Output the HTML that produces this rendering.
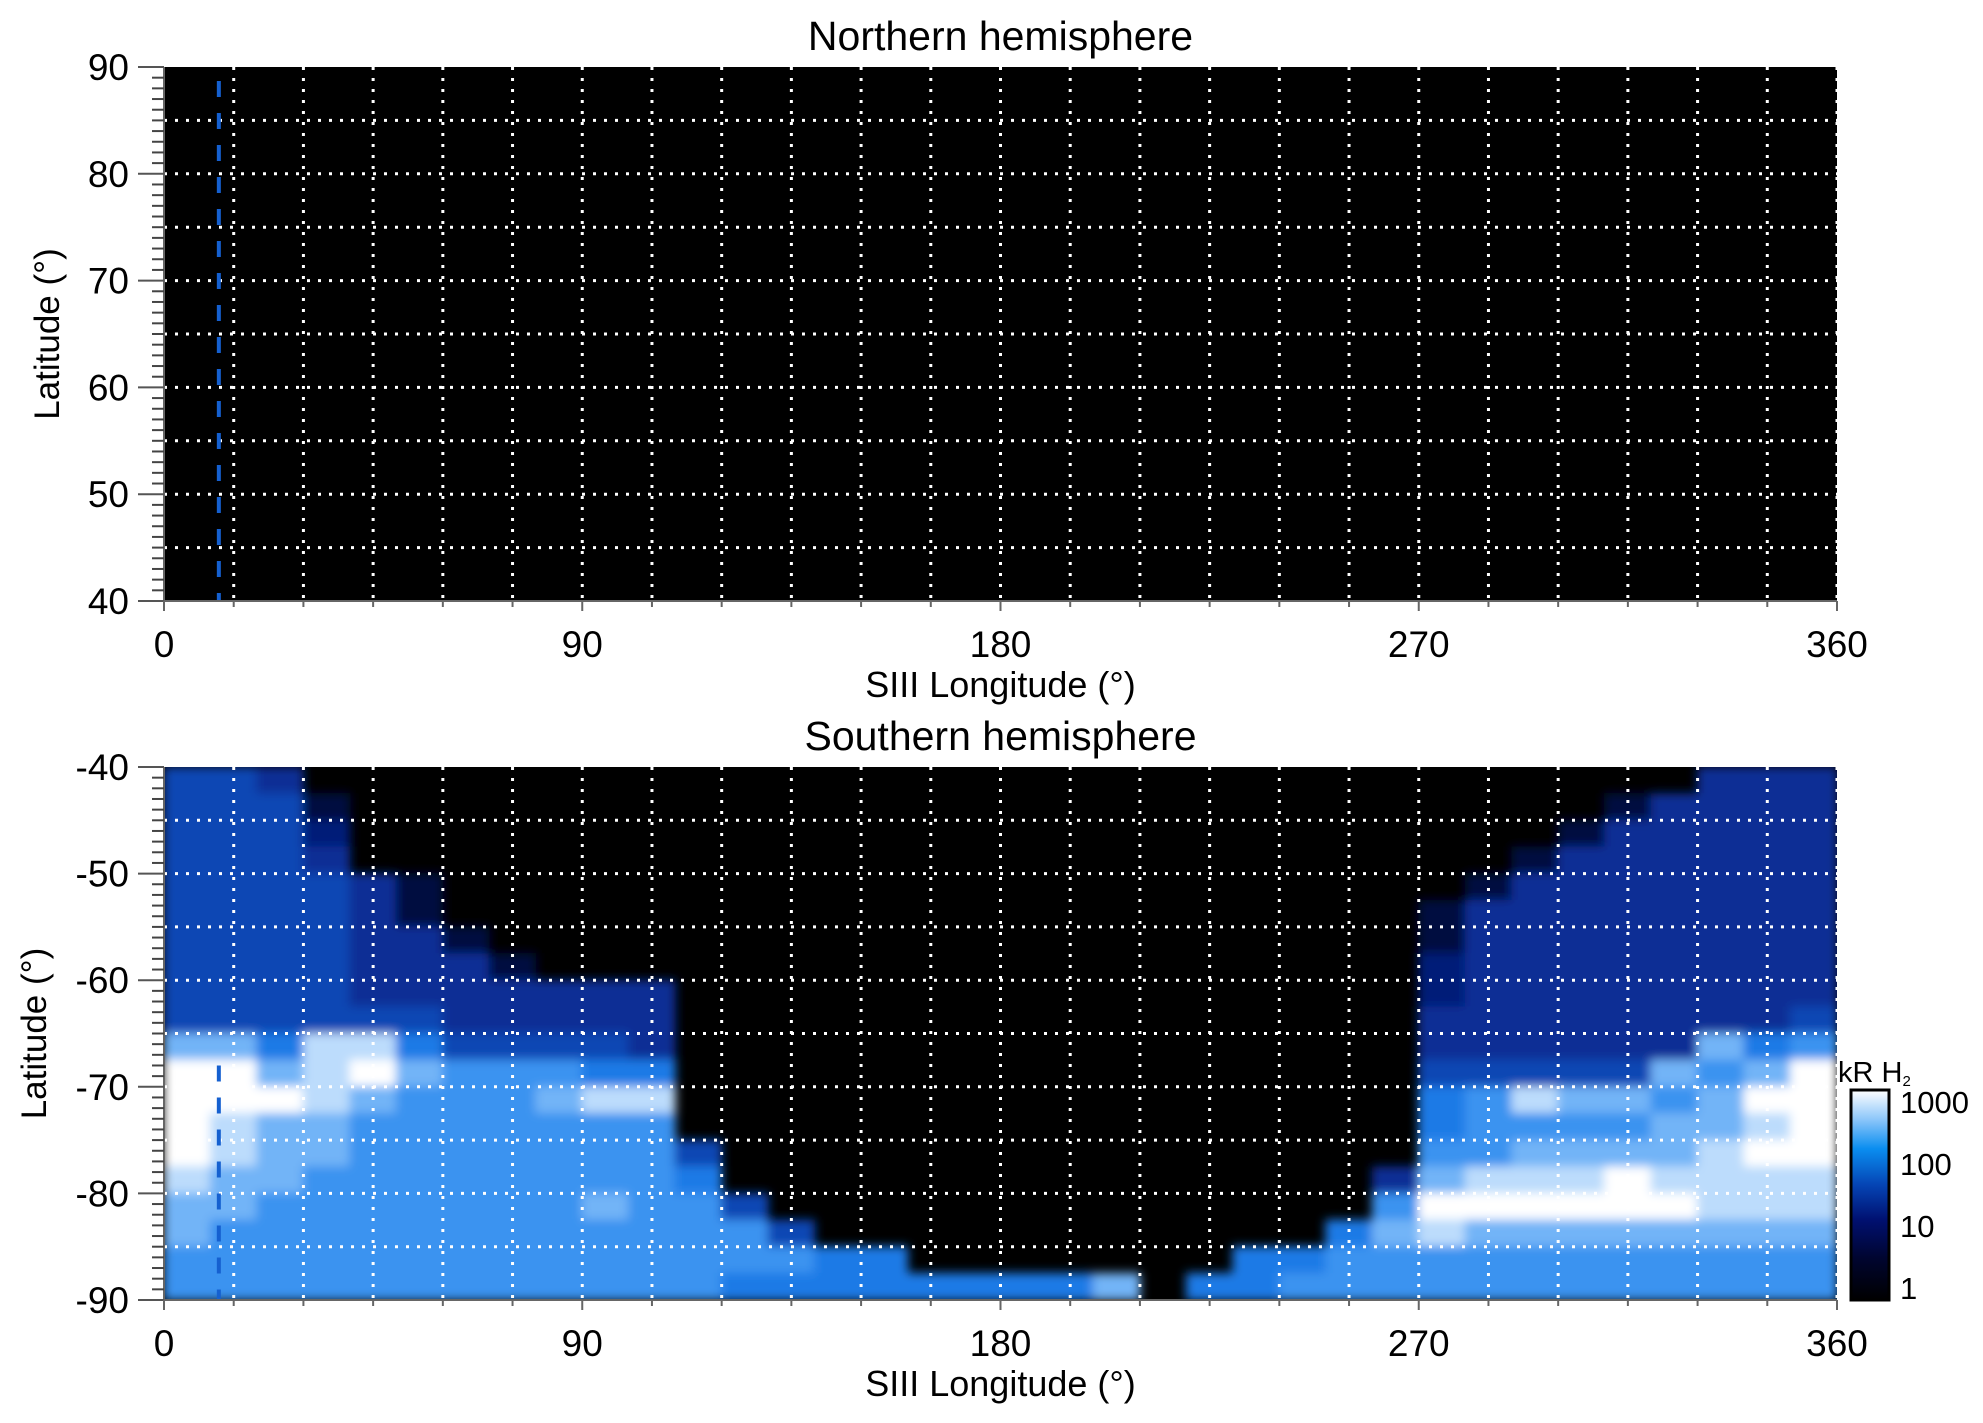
<!DOCTYPE html>
<html><head><meta charset="utf-8"><title>Auroral emission map</title>
<style>
html,body{margin:0;padding:0;background:#fff;}
svg{display:block;font-family:"Liberation Sans",sans-serif;}
</style></head>
<body>
<svg id="fig" width="1983" height="1423" viewBox="0 0 1983 1423" xmlns="http://www.w3.org/2000/svg">
<defs>
<linearGradient id="cbar" x1="0" y1="1" x2="0" y2="0">
<stop offset="0" stop-color="#000000"/>
<stop offset="0.2" stop-color="#000530"/>
<stop offset="0.38" stop-color="#001070"/>
<stop offset="0.55" stop-color="#0545b5"/>
<stop offset="0.72" stop-color="#0a8ef0"/>
<stop offset="0.86" stop-color="#8cc6fa"/>
<stop offset="1" stop-color="#ffffff"/>
</linearGradient>
<clipPath id="clipS"><rect x="164" y="767" width="1673" height="533"/></clipPath>
<filter id="soft" x="0" y="0" width="1" height="1"><feGaussianBlur stdDeviation="5"/></filter>
</defs>
<g id="north"></g>
<g id="south"></g>
<g id="colorbar">
<rect x="1851" y="1090" width="38" height="210" fill="url(#cbar)" stroke="#000" stroke-width="3"/>
<text x="1838" y="1082" font-size="29">kR H<tspan font-size="15" dy="4">2</tspan></text>
</g>
</svg>
<script>
// ---- data ----
const lonTicks = [0, 90, 180, 270, 360];
const northLatTicks = [40, 50, 60, 70, 80, 90];
const southLatTicks = [-90, -80, -70, -60, -50, -40];
const cbarTicks = ["1000", "100", "10", "1"];
const cbarTickValues = [1000, 100, 10, 1];
const cmLonStep = 10;
const cmLatStep = 2.5;
// emission level (0 black .. 9 white) per 10° lon cell, rows from -40 down to -90 in 2.5° steps
const southRows = [
"443000000000000000000000000000000333",
"444100000000000000000000000000013333",
"444200000000000000000000000000133333",
"444300000000000000000000000001333333",
"444431000000000000000000000013333333",
"444431000000000000000000000133333333",
"444433100000000000000000000133333333",
"444433310000000000000000000233333333",
"444433333330000000000000000233333333",
"444444333330000000000000000333333334",
"775885444430000000000000000333333756",
"997897666550000000000000000444447679",
"999876667880000000000000000568776799",
"987766666660000000000000000566667789",
"987766666664000000000000000667777899",
"877666666665000000000000003788898888",
"776666666766400000000000006999999888",
"766666666666640000000000057877777777",
"666666666666665500000005566666666666",
"666666666666555555557055666666666666"
];
const levelColors = ["#000000","#020a40","#031d78","#072f95","#0c46b4","#1f7ae6","#3a93f0","#72b4f7","#bcdcfc","#ffffff"];
const markerLon = 11.8;

// ---- layout ----
const X0 = 164, X1 = 1837;
const NT = 67, NB = 601, ST = 767, SB = 1300;
const svg = document.getElementById('fig');
const NS = 'http://www.w3.org/2000/svg';
function xs(lon){ return X0 + (lon/360)*(X1-X0); }
function yN(lat){ return NT + (90-lat)/50*(NB-NT); }
function yS(lat){ return ST + (-40-lat)/50*(SB-ST); }
function mk(tag, attrs, parent){ const e=document.createElementNS(NS,tag); for(const k in attrs) e.setAttribute(k,attrs[k]); parent.appendChild(e); return e; }

function panel(g, top, bot, yf, latTicks, latMin, title, isSouth){
  const bg = mk('rect',{x:X0,y:top,width:X1-X0,height:bot-top,fill:'#000'},g);
  
  
  if(isSouth){
    const hm = mk('g',{'clip-path':'url(#clipS)'},g);
    
    
    const inner = mk('g',{filter:'url(#soft)'},hm);
    southRows.forEach((row,r)=>{
      const latTop = -40 - r*cmLatStep, latBot = latTop - cmLatStep;
      for(let c=0;c<row.length;c++){
        const lv = +row[c];
        if(lv===0) continue;
        const x = xs(c*cmLonStep), w = xs((c+1)*cmLonStep)-x;
        const y = yf(latTop), h = yf(latBot)-y;
        const cell = mk('rect',{x:x-0.5,y:y-0.5,width:w+1,height:h+1,fill:levelColors[lv]},inner);
        
        
      }
    });
  }
  // grid
  for(let lon=15;lon<=360;lon+=15){
    const l = mk('line',{x1:xs(lon),x2:xs(lon),y1:top,y2:bot,stroke:'#fff','stroke-width':3,'stroke-dasharray':'3,8'},g);
    
    
  }
  for(let k=1;k<10;k++){
    const lat = latMin + k*5;
    const l = mk('line',{x1:X0,x2:X1,y1:yf(lat),y2:yf(lat),stroke:'#fff','stroke-width':3,'stroke-dasharray':'3,8'},g);
    
    
  }
  // marker line
  const ml = mk('line',{x1:xs(markerLon),x2:xs(markerLon),y1:isSouth?yf(-68):top+14,y2:bot,stroke:'#1560d0','stroke-width':4,'stroke-dasharray':'16,16'},g);
  
  
  // axes
  const ax = mk('path',{d:`M${X0} ${top} V${bot} H${X1}`,stroke:'#666','stroke-width':2,fill:'none'},g);
  
  
  for(let k=0;k<=50;k++){
    const lat = latMin + k, y = yf(lat), major = k%10===0;
    const t = mk('line',{x1:major?138:152,x2:X0,y1:y,y2:y,stroke:major?'#555':'#444','stroke-width':2},g);
    
    
  }
  latTicks.forEach(lat=>{
    const t = mk('text',{x:129,y:yf(lat)+13,'font-size':37,'text-anchor':'end'},g);
    t.textContent = lat;
    
    
  });
  for(let lon=0;lon<=360;lon+=15){
    const major = lon%90===0;
    const t = mk('line',{x1:xs(lon),x2:xs(lon),y1:bot,y2:bot+(major?10:6),stroke:'#666','stroke-width':2},g);
    
    
  }
  lonTicks.forEach(lon=>{
    const t = mk('text',{x:xs(lon),y:bot+56,'font-size':37,'text-anchor':'middle'},g);
    t.textContent = lon;
    
    
  });
  const xl = mk('text',{x:(X0+X1)/2,y:bot+96,'font-size':36,'text-anchor':'middle'},g);
  xl.textContent = 'SIII Longitude (°)';
  
  
  const yc = (top+bot)/2, yx = isSouth?46:59;
  const yl = mk('text',{x:yx,y:yc,'font-size':35,'text-anchor':'middle',transform:`rotate(-90 ${yx} ${yc})`},g);
  yl.textContent = 'Latitude (°)';
  
  
  const ti = mk('text',{x:(X0+X1)/2,y:top-17,'font-size':41,'text-anchor':'middle'},g);
  ti.textContent = title;
  
  
}
panel(document.getElementById('north'), NT, NB, yN, northLatTicks, 40, 'Northern hemisphere', false);
panel(document.getElementById('south'), ST, SB, yS, southLatTicks, -90, 'Southern hemisphere', true);

// colorbar labels (log scale)
const cb = document.getElementById('colorbar');
function yC(v){ return 1288 - (Math.log10(v)/3)*(1288-1102); }
cbarTicks.forEach((lab,i)=>{
  const t = mk('text',{x:1900,y:yC(cbarTickValues[i])+11,'font-size':31},cb);
  t.textContent = lab;
  
  
});
</script>
</body></html>
